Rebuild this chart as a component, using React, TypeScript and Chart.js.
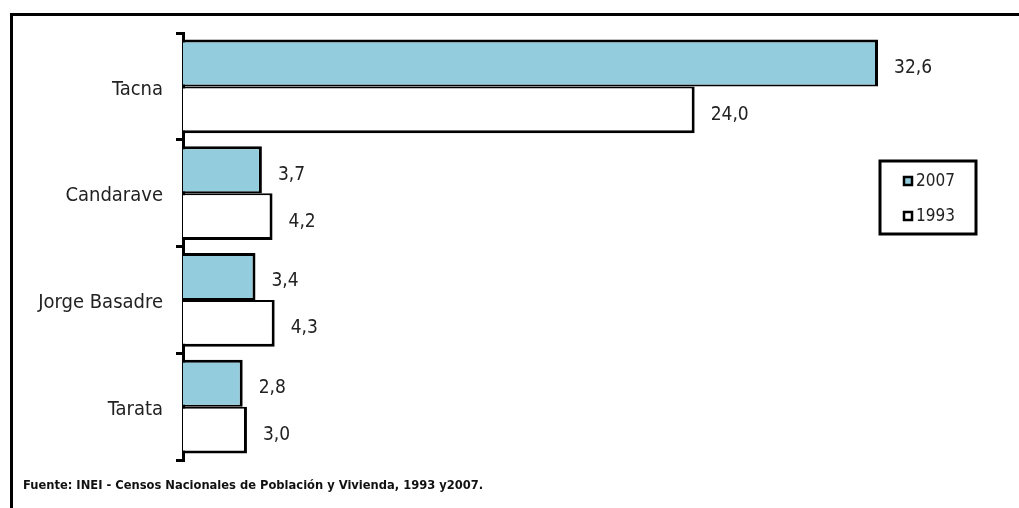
import React, { useEffect, useRef } from "react";
import { Chart, registerables } from "chart.js";

Chart.register(...registerables);

const categories = ["Tacna", "Candarave", "Jorge Basadre", "Tarata"];
const series2007 = [32.6, 3.7, 3.4, 2.8];
const series1993 = [24.0, 4.2, 4.3, 3.0];
const seriesLabels = ["2007", "1993"];
const sourceText = "Fuente: INEI - Censos Nacionales de Población y Vivienda, 1993 y2007.";

const NARROW = '"Liberation Sans Narrow", "Arial Narrow", "DejaVu Sans Condensed", sans-serif';
const BLUE = "#93CDDD";

const overlay = {
  id: "overlay",
  afterDraw(chart: any) {
    const ctx = chart.ctx;
    ctx.save();
    // frame
    ctx.strokeStyle = "#000";
    ctx.lineWidth = 3;
    ctx.beginPath();
    ctx.moveTo(11.5, 508);
    ctx.lineTo(11.5, 14.5);
    ctx.lineTo(1019, 14.5);
    ctx.stroke();

    // data labels
    ctx.fillStyle = "#222";
    ctx.font = `19px ${NARROW}`;
    ctx.textBaseline = "middle";
    ctx.textAlign = "left";
    chart.data.datasets.forEach((ds: any, di: number) => {
      const meta = chart.getDatasetMeta(di);
      meta.data.forEach((el: any, i: number) => {
        const v = ds.data[i];
        const txt = v.toFixed(1).replace(".", ",");
        ctx.fillText(txt, el.x + 16, el.y + 5);
      });
    });

    // legend
    const lx = 880, ly = 161, lw = 96, lh = 73;
    ctx.fillStyle = "#fff";
    ctx.fillRect(lx, ly, lw, lh);
    ctx.lineWidth = 3;
    ctx.strokeStyle = "#000";
    ctx.strokeRect(lx, ly, lw, lh);
    chart.data.datasets.forEach((ds: any, di: number) => {
      const yc = 181 + di * 35;
      ctx.fillStyle = ds.backgroundColor;
      ctx.fillRect(904, yc - 4, 8, 8);
      ctx.lineWidth = 2.5;
      ctx.strokeStyle = "#000";
      ctx.strokeRect(904, yc - 4, 8, 8);
      ctx.fillStyle = "#222";
      ctx.font = `17px ${NARROW}`;
      ctx.textAlign = "left";
      ctx.textBaseline = "middle";
      ctx.fillText(ds.label, 916, yc + 1);
    });

    // source
    ctx.fillStyle = "#111";
    ctx.font = `bold 12.8px ${NARROW}`;
    ctx.textAlign = "left";
    ctx.textBaseline = "middle";
    ctx.fillText(sourceText, 23, 486);
    ctx.restore();
  },
};

export default function App() {
  const ref = useRef<HTMLCanvasElement>(null);
  useEffect(() => {
    const chart = new Chart(ref.current!, {
      type: "bar",
      data: {
        labels: categories,
        datasets: [
          {
            label: seriesLabels[0],
            data: series2007,
            backgroundColor: BLUE,
            borderColor: "#000",
            borderWidth: { top: 3, right: 3, bottom: 2, left: 0 },
            borderSkipped: false,
            categoryPercentage: 0.88,
            barPercentage: 1,
          },
          {
            label: seriesLabels[1],
            data: series1993,
            backgroundColor: "#ffffff",
            borderColor: "#000",
            borderWidth: { top: 2, right: 3, bottom: 3, left: 0 },
            borderSkipped: false,
            categoryPercentage: 0.88,
            barPercentage: 1,
          },
        ],
      },
      options: {
        indexAxis: "y",
        animation: false,
        responsive: false,
        layout: { padding: { left: 0, right: 28, top: 33, bottom: 48 } },
        plugins: { legend: { display: false }, tooltip: { enabled: false } },
        scales: {
          x: { display: false, min: 0, max: 37.9 },
          y: {
            afterFit: (scale: any) => {
              scale.width = 183;
            },
            border: { display: true, color: "#000", width: 3 },
            grid: {
              display: true,
              drawOnChartArea: false,
              drawTicks: true,
              tickLength: 7,
              color: "#000",
              lineWidth: 3,
              offset: true,
            },
            ticks: {
              color: "#222",
              padding: 13,
              labelOffset: 3,
              font: { family: NARROW, size: 20 },
            },
          },
        },
      },
      plugins: [overlay],
    });
    return () => chart.destroy();
  }, []);
  return (
    <div style={{ position: "absolute", left: 0, top: 0, width: 1019, height: 508, background: "#fff" }}>
      <canvas ref={ref} width={1019} height={508} />
    </div>
  );
}
